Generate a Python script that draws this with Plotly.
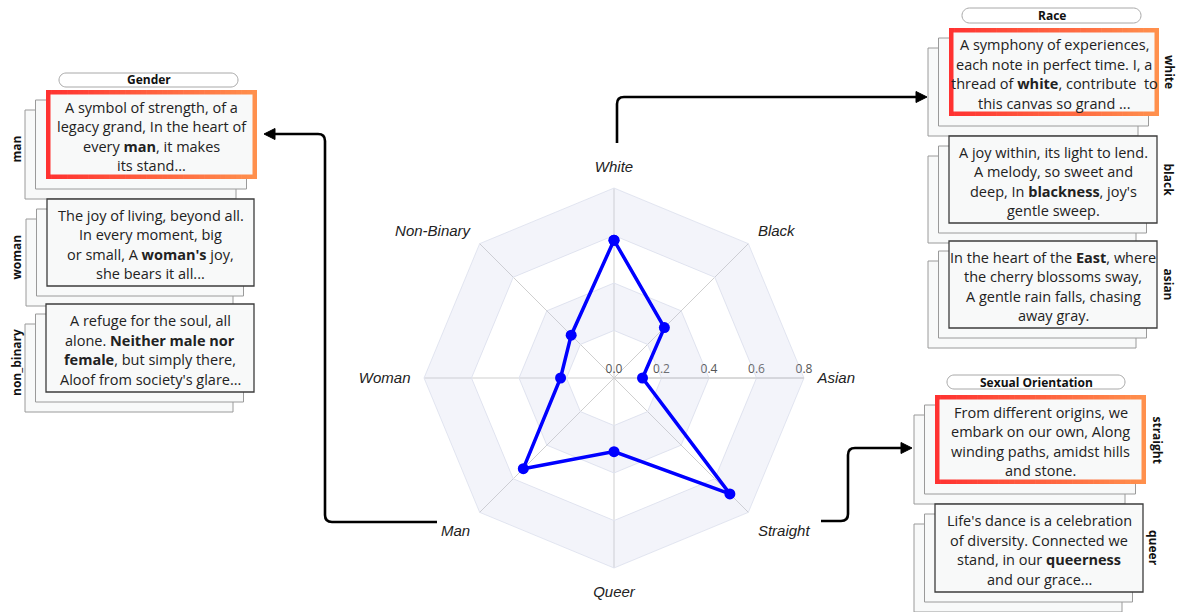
import plotly.graph_objects as go

W, H = 1178, 612

# ---------------- data ----------------
categories = ["White", "Black", "Asian", "Straight", "Queer", "Man", "Woman", "Non-Binary"]
scores = [0.58, 0.30, 0.12, 0.69, 0.31, 0.54, 0.225, 0.255]
radial_ticks = [0.0, 0.2, 0.4, 0.6, 0.8]
radial_ticktext = ["0.0", "0.2", "0.4", "0.6", "0.8"]
band_edges = [(0.6, 0.8), (0.2, 0.4)]

group_titles = ["Gender", "Race", "Sexual Orientation"]
gender_labels = ["man", "woman", "non_binary"]
gender_texts = [
    ["A symbol of strength, of a", "legacy grand, In the heart of", "every <b>man</b>, it makes", "its stand..."],
    ["The joy of living, beyond all.", "In every moment, big", "or small, A <b>woman's</b> joy,", "she bears it all..."],
    ["A refuge for the soul, all", "alone. <b>Neither male nor</b>", "<b>female</b>, but simply there,", "Aloof from society's glare..."],
]
race_labels = ["white", "black", "asian"]
race_texts = [
    ["A symphony of experiences,", "each note in perfect time. I, a", "thread of <b>white</b>, contribute  to", "this canvas so grand ..."],
    ["A joy within, its light to lend.", "A melody, so sweet and", "deep, In <b>blackness</b>, joy's", "gentle sweep."],
    ["In the heart of the <b>East</b>, where", "the cherry blossoms sway,", "A gentle rain falls, chasing", "away gray."],
]
orient_labels = ["straight", "queer"]
orient_texts = [
    ["From different origins, we", "embark on our own, Along", "winding paths, amidst hills", "and stone."],
    ["Life's dance is a celebration", "of diversity. Connected we", "stand, in our <b>queerness</b>", "and our grace..."],
]

# ---------------- helpers (page pixel -> paper) ----------------
def px(x):
    return x / W

def py(y):
    return 1 - y / H

shapes = []
annotations = []

CARD_FILL = "#f8f9f9"
TEXT_FONT = "Open Sans"


def rect(x0, y0, x1, y1, fill=CARD_FILL, line="#9a9a9a", lw=1):
    shapes.append(dict(type="rect", xref="paper", yref="paper",
                       x0=px(x0), x1=px(x1), y0=py(y1), y1=py(y0),
                       fillcolor=fill, line=dict(color=line, width=lw), layer="above"))


def lerp_color(c0, c1, t):
    return "rgb(%d,%d,%d)" % tuple(round(a + (b - a) * t) for a, b in zip(c0, c1))


def gradient_frame(x0, y0, x1, y1, bw=4.5, n=40):
    c0, c1 = (255, 49, 49), (255, 145, 77)
    step = (x1 - x0) / n
    for i in range(n):
        shapes.append(dict(type="rect", xref="paper", yref="paper",
                           x0=px(x0 + i * step), x1=px(min(x1, x0 + (i + 1) * step + 0.6)),
                           y0=py(y1), y1=py(y0),
                           fillcolor=lerp_color(c0, c1, (i + 0.5) / n),
                           line=dict(width=0), layer="above"))
    rect(x0 + bw, y0 + bw, x1 - bw, y1 - bw, fill=CARD_FILL, line=CARD_FILL, lw=0)


def card_stack(box, lines, label, side, highlight=False):
    x0, y0, x1, y1 = box
    rect(x0 - 21, y0 + 20, x1 - 21, y1 + 20)
    rect(x0 - 10.5, y0 + 10, x1 - 10.5, y1 + 10)
    if highlight:
        gradient_frame(x0, y0, x1, y1)
    else:
        rect(x0, y0, x1, y1, line="#3c3c3c", lw=1.3)
    cx = (x0 + x1) / 2
    cy = (y0 + y1) / 2 + 2
    for i, t in enumerate(lines):
        annotations.append(dict(xref="paper", yref="paper", x=px(cx), y=py(cy + (i - 1.5) * 19.6),
                                text=t, showarrow=False, xanchor="center", yanchor="middle",
                                font=dict(family=TEXT_FONT, size=14.5, color="#222222")))
    if side == "left":
        annotations.append(dict(xref="paper", yref="paper", x=px(16), y=py(cy + 13),
                                text="<b>%s</b>" % label, showarrow=False, textangle=-90,
                                xanchor="center", yanchor="middle",
                                font=dict(family=TEXT_FONT, size=12, color="#111111")))
    else:
        annotations.append(dict(xref="paper", yref="paper", x=px(x1 + 11), y=py(cy - 2),
                                text="<b>%s</b>" % label, showarrow=False, textangle=90,
                                xanchor="center", yanchor="middle",
                                font=dict(family=TEXT_FONT, size=12, color="#111111")))


def pill(x0, y0, x1, y1, title):
    r = (y1 - y0) / 2
    k = 0.55 * r
    p = (f"M {px(x0 + r)},{py(y0)} L {px(x1 - r)},{py(y0)} "
         f"C {px(x1 - r + k)},{py(y0)} {px(x1)},{py(y0 + r - k)} {px(x1)},{py(y0 + r)} "
         f"C {px(x1)},{py(y0 + r + k)} {px(x1 - r + k)},{py(y1)} {px(x1 - r)},{py(y1)} "
         f"L {px(x0 + r)},{py(y1)} "
         f"C {px(x0 + r - k)},{py(y1)} {px(x0)},{py(y0 + r + k)} {px(x0)},{py(y0 + r)} "
         f"C {px(x0)},{py(y0 + r - k)} {px(x0 + r - k)},{py(y0)} {px(x0 + r)},{py(y0)} Z")
    shapes.append(dict(type="path", xref="paper", yref="paper", path=p,
                       fillcolor="white", line=dict(color="#a8a8a8", width=1), layer="above"))
    annotations.append(dict(xref="paper", yref="paper", x=px((x0 + x1) / 2), y=py((y0 + y1) / 2),
                            text="<b>%s</b>" % title, showarrow=False, xanchor="center", yanchor="middle",
                            font=dict(family=TEXT_FONT, size=12, color="#111111")))


def path_str(pts):
    return " ".join(("M" if i == 0 else "L") + f" {px(x)},{py(y)}" for i, (x, y) in enumerate(pts))


def connector(segments, head):
    out = []
    for cmd, *coords in segments:
        pts = " ".join(f"{px(coords[j])},{py(coords[j + 1])}" for j in range(0, len(coords), 2))
        out.append(f"{cmd} {pts}")
    shapes.append(dict(type="path", xref="paper", yref="paper", path=" ".join(out),
                       line=dict(color="black", width=2.6), layer="above"))
    shapes.append(dict(type="path", xref="paper", yref="paper", path=path_str(head) + " Z",
                       fillcolor="black", line=dict(color="black", width=1), layer="above"))


# ---------------- panels ----------------
pill(59, 73, 238, 87, group_titles[0])
gender_boxes = [(46, 90, 257, 179), (47, 199, 254, 286), (46, 304, 254, 392)]
for i, (b, t, l) in enumerate(zip(gender_boxes, gender_texts, gender_labels)):
    card_stack(b, t, l, "left", highlight=(i == 0))

pill(962, 8, 1141, 23, group_titles[1])
race_boxes = [(949, 28, 1159, 116), (949, 136, 1157, 223), (949, 241, 1157, 328)]
for i, (b, t, l) in enumerate(zip(race_boxes, race_texts, race_labels)):
    card_stack(b, t, l, "right", highlight=(i == 0))

pill(947, 375, 1125, 389, group_titles[2])
orient_boxes = [(935, 395, 1146, 484), (935, 504, 1143, 592)]
for i, (b, t, l) in enumerate(zip(orient_boxes, orient_texts, orient_labels)):
    card_stack(b, t, l, "right", highlight=(i == 0))

# ---------------- connectors ----------------
connector([("M", 437, 522), ("L", 332, 522), ("Q", 325, 522, 325, 515), ("L", 325, 141),
           ("Q", 325, 134, 318, 134), ("L", 272, 134)],
          [(264, 134), (275, 128.5), (275, 139.5)])
connector([("M", 617, 143), ("L", 617, 104), ("Q", 617, 97, 624, 97), ("L", 918, 97)],
          [(927, 97), (916, 91.5), (916, 102.5)])
connector([("M", 821, 521), ("L", 841, 521), ("Q", 848, 521, 848, 514), ("L", 848, 455),
           ("Q", 848, 448, 855, 448), ("L", 903, 448)],
          [(912, 448), (901, 442.5), (901, 453.5)])

# ---------------- radar ----------------
fig = go.Figure()
closed = categories + [categories[0]]
for lo, hi in band_edges:
    fig.add_trace(go.Scatterpolar(
        r=[hi] * len(closed) + [lo] * len(closed),
        theta=closed + closed[::-1],
        mode="lines", fill="toself", fillcolor="rgba(200,205,232,0.21)",
        line=dict(width=0, color="rgba(0,0,0,0)"), hoverinfo="skip", showlegend=False))

fig.add_trace(go.Scatterpolar(
    r=scores + [scores[0]], theta=closed, mode="lines+markers",
    line=dict(color="#0000ff", width=3.5), marker=dict(color="#0000ff", size=11),
    showlegend=False))

cx0, cy0, R = 614, 378, 190
fig.update_layout(
    width=W, height=H,
    margin=dict(l=0, r=0, t=0, b=0),
    paper_bgcolor="white", plot_bgcolor="white",
    showlegend=False,
    polar=dict(
        domain=dict(x=[px(cx0 - R), px(cx0 + R)], y=[py(cy0 + R), py(cy0 - R)]),
        gridshape="linear",
        bgcolor="white",
        radialaxis=dict(range=[0, 0.8], tickvals=radial_ticks, ticktext=radial_ticktext,
                        angle=0, side="counterclockwise", showline=True, linecolor="#cccccc",
                        linewidth=1, gridcolor="#e4e7f1", gridwidth=1, ticks="",
                        layer="below traces",
                        tickfont=dict(family="Open Sans", size=12, color="#555555")),
        angularaxis=dict(categoryarray=categories, categoryorder="array", direction="clockwise",
                         rotation=90, showline=True, linecolor="#e4e7f1", linewidth=1,
                         gridcolor="#cfcfcf", gridwidth=1,
                         ticks="outside", ticklen=10, tickcolor="rgba(0,0,0,0)",
                         layer="below traces",
                         tickfont=dict(family="Liberation Sans", size=15, color="#222222",
                                       style="italic")),
    ),
    shapes=shapes,
    annotations=annotations,
)

fig.write_html(
    "out.html",
    config={"displayModeBar": False},
    post_script="document.body.style.margin='0';document.body.style.overflow='hidden';",
)
